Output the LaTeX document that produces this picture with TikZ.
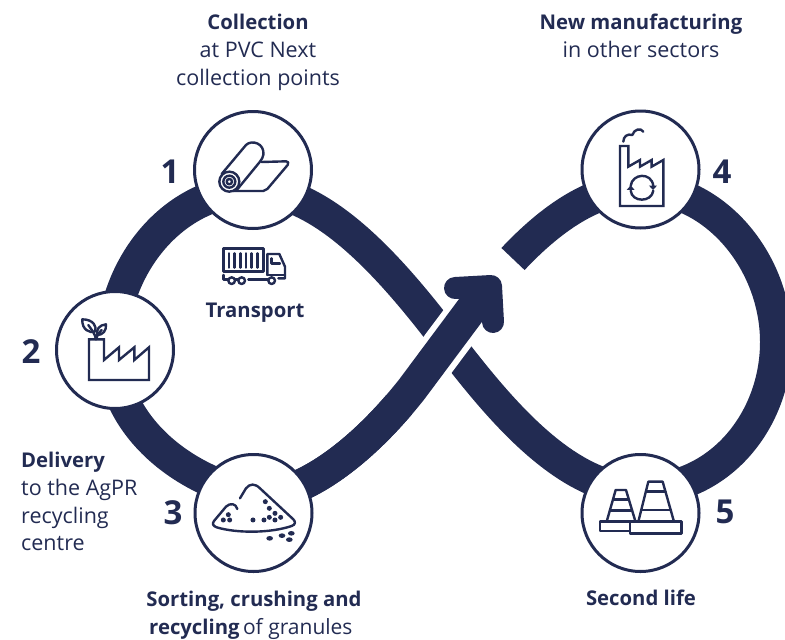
\documentclass[tikz,border=0pt]{standalone}
\usepackage{fontspec}
\setmainfont{Open Sans}
\definecolor{navy}{HTML}{222B52}
\tikzset{
  band/.style={draw=navy,line width=32pt,line cap=butt},
  halo/.style={draw=white,line width=44pt,line cap=butt},
  headline/.style={draw=navy,line width=22pt,line cap=round,line join=round},
  disc/.style={circle,draw=navy,fill=white,line width=3pt,minimum size=117pt,inner sep=0pt},
  icon/.style={draw=navy,line width=2.4pt,line join=round,line cap=round},
  dot/.style={fill=navy},
  num/.style={text=navy,font=\fontsize{33}{33}\selectfont\bfseries,inner sep=0pt},
  lab/.style={text=navy,font=\fontsize{21.5}{22}\selectfont,inner sep=0pt,anchor=base},
  labb/.style={text=navy,font=\fontsize{20.3}{21}\selectfont\bfseries,inner sep=0pt,anchor=base},
  z/.style={shift={#1},x=0.3333pt,y=-0.3333pt}
}
\begin{document}
\begin{tikzpicture}[x=1pt,y=-1pt]
\useasboundingbox (0,0) rectangle (785,640);
% main band: right loop and crossing limb
\draw[band] (513,259) .. controls (545,225) and (590,188) .. (640,188)
  .. controls (715,188) and (776,262) .. (776,342)
  .. controls (776,420) and (720,490) .. (640,490)
  .. controls (555,490) and (480,383) .. (433,323)
  .. controls (385,262) and (320,190) .. (253,190)
  .. controls (175,190) and (112,265) .. (112,350)
  .. controls (112,420) and (175,478) .. (253,495)
  .. controls (290,500) and (352,465) .. (412,389);
\draw[halo] (400,405) -- (480,298);
\draw[band] (253,495) .. controls (290,500) and (352,465) .. (412,389) -- (485,291);
\draw[headline] (455,288) -- (491,286) -- (493,322);
% discs
\node[disc] (c1) at (253,170) {};
\node[disc] (c2) at (115,350) {};
\node[disc] (c3) at (253.5,513) {};
\node[disc] (c4) at (640.5,169.5) {};
\node[disc] (c5) at (640.5,513) {};
% numbers
\node[num] (n1) at (170,172) {1};
\node[num] (n2) at (31,352) {2};
\node[num] (n3) at (173,513) {3};
\node[num] (n4) at (722,172) {4};
\node[num] (n5) at (725,512) {5};
% texts
\node[labb] (t1) at (258,29) {Collection};
\node[lab] (t2) at (258,57) {at PVC Next};
\node[lab] (t3) at (258,85) {collection points};
\node[labb] (t4) at (641,29) {New manufacturing};
\node[lab] (t5) at (641,57) {in other sectors};
\node[labb] (t6) at (255,317) {Transport};
\node[labb,anchor=base west] (t7) at (21,467) {Delivery};
\node[lab,anchor=base west] (t8) at (21,495) {to the AgPR};
\node[lab,anchor=base west] (t9) at (21,523) {recycling};
\node[lab,anchor=base west] (t10) at (21,550) {centre};
\node[labb] (t11) at (254,606) {Sorting, crushing and};
\node[labb,anchor=base west] (t12) at (149,634) {recycling\,\mdseries\fontsize{21}{21}\selectfont of granules};
\node[labb] (t13) at (641,605) {Second life};
% roll icon + truck
\begin{scope}[z={(180,100)}]
\draw[icon] (148,245) circle (30) (148,245) circle (18) (148,245) circle (8);
\draw[icon] (125,222) -- (198,135) .. controls (215,118) and (255,130) .. (250,165) .. controls (249,172) and (245,178) .. (240,185) -- (172,268);
\draw[icon] (160,273) -- (250,273) .. controls (256,273) and (258,271) .. (262,267) -- (323,195) .. controls (328,188) and (324,184) .. (318,184) -- (245,186);
\draw[icon] (130,445) rectangle (250,515);
\foreach \i in {147,164,181,198,215,232} \draw[icon] (\i,460) -- (\i,503);
\draw[icon] (262,525) -- (262,462) -- (298,462) -- (315,500) -- (315,535) -- (295,535);
\draw[icon] (275,475) -- (275,490) -- (300,490);
\draw[icon] (262,525) -- (315,525);
\draw[icon] (130,525) -- (130,538) -- (145,538);
\draw[icon] (165,538) -- (175,538);
\draw[icon] (205,538) -- (263,538);
\draw[icon] (155,542) circle (10) (185,542) circle (10) (275,542) circle (10);
\end{scope}
% factory with leaves
\begin{scope}[z={(40,290)}]
\draw[icon,line join=miter] (147,270) -- (147,148) -- (192,148) -- (192,210) -- (237,172) -- (237,210) -- (283,172) -- (283,210) -- (327,172) -- (327,270) -- cycle;
\draw[icon] (127,88) .. controls (160,88) and (172,110) .. (165,125) .. controls (150,130) and (125,120) .. (127,88) -- cycle;
\draw[icon] (198,103) .. controls (200,122) and (188,135) .. (172,135) .. controls (168,118) and (178,105) .. (198,103) -- cycle;
\draw[icon] (145,105) .. controls (155,120) and (165,130) .. (168,148);
\draw[icon] (185,120) .. controls (175,130) and (170,138) .. (168,148);
\end{scope}
% pile
\begin{scope}[z={(180,440)}]
\draw[icon] (172,207) .. controls (168,190) and (150,188) .. (138,200) -- (102,243) .. controls (95,252) and (100,258) .. (110,262) .. controls (170,280) and (270,280) .. (335,258) .. controls (347,254) and (347,245) .. (340,238) -- (240,145) .. controls (225,130) and (210,130) .. (198,145) -- (180,175);
\foreach \p in {(145,224),(130,240),(149,240),(219,240),(252,240),(268,232),(285,240),(302,232),(285,220),(268,205),(256,185)}
  \fill[dot] \p circle (7.5);
\foreach \p in {(269,295),(306,287),(334,280),(328,299)}
  \fill[dot] \p ellipse (10 and 7);
\end{scope}
% factory recycling
\begin{scope}[z={(570,100)}]
\draw[icon,line join=miter] (150,318) -- (150,138) -- (175,138) -- (175,200) -- (210,180) -- (210,200) -- (245,180) -- (245,200) -- (280,180) -- (280,318) -- cycle;
\draw[icon] (160,125) .. controls (160,110) and (172,100) .. (187,105) .. controls (192,88) and (212,82) .. (220,95);
\draw[icon] (182,258) .. controls (186,220) and (245,215) .. (250,258);
\draw[icon] (250,272) .. controls (245,308) and (186,308) .. (182,272);
\fill[dot] (237,257) -- (261,257) -- (249,270) -- cycle;
\fill[dot] (170,270) -- (194,270) -- (182,256) -- cycle;
\end{scope}
% cones
\begin{scope}[z={(570,440)}]
\draw[icon] (90,245) rectangle (180,273);
\draw[icon] (110,245) -- (137,150) -- (168,150) -- (195,240);
\draw[icon] (130,178) -- (176,178);
\draw[icon] (120,212) -- (186,212);
\draw[icon] (180,245) rectangle (335,280);
\draw[icon] (205,245) -- (235,125) -- (278,125) -- (312,245);
\draw[icon] (228,155) -- (286,155);
\draw[icon] (213,210) -- (303,210);
\end{scope}
\end{tikzpicture}
\end{document}
